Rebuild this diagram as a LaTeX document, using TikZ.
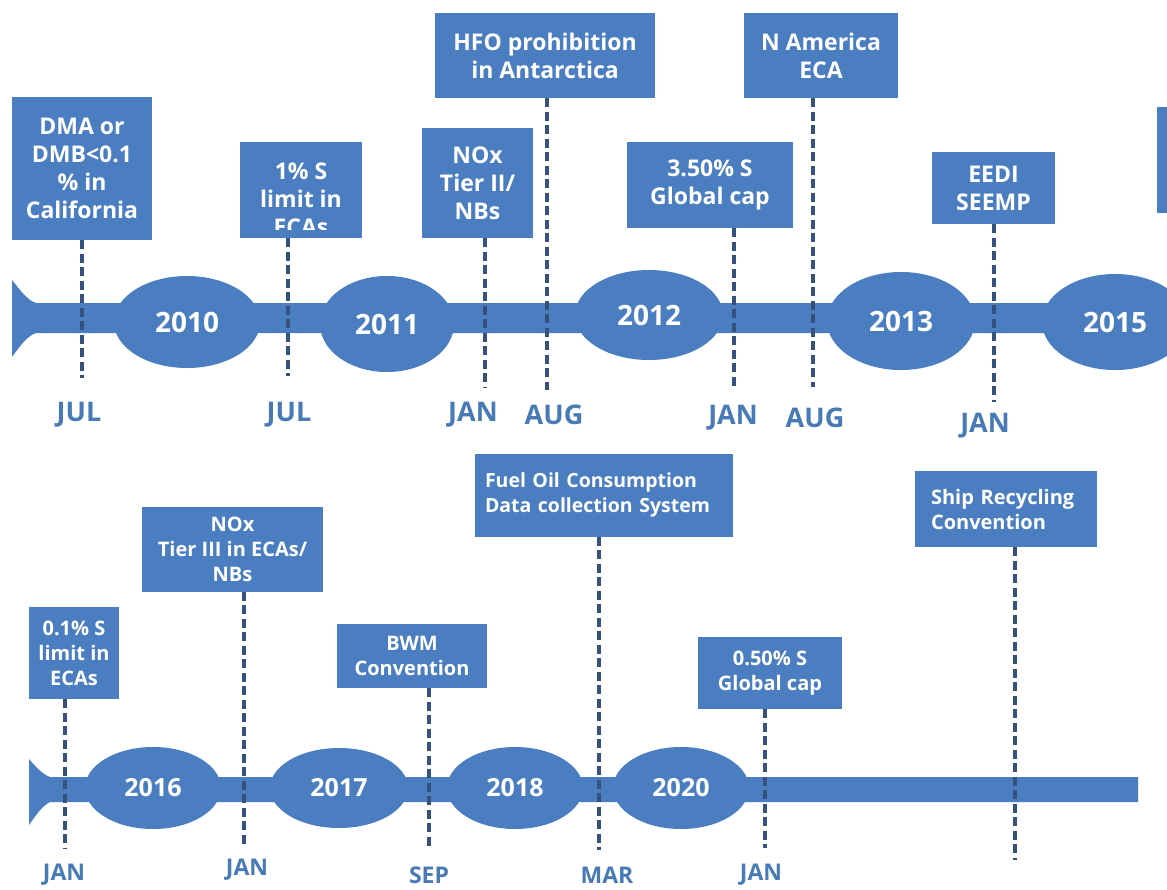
\documentclass[tikz,border=0pt]{standalone}
\usepackage{fontspec}
\setmainfont{Open Sans}
\usetikzlibrary{shapes.geometric}
\definecolor{tlblue}{RGB}{74,126,192}
\definecolor{tldash}{RGB}{52,82,124}
\definecolor{tlmonth}{RGB}{72,122,182}
\begin{document}
\begin{tikzpicture}[x=1pt,y=-1pt,
  evbox/.style={fill=tlblue, draw=none, text=white, inner sep=0pt, align=center,
    font=\bfseries\fontsize{23}{28}\selectfont},
  evboxs/.style={evbox, font=\bfseries\fontsize{20}{25}\selectfont},
  yearblob/.style={ellipse, fill=tlblue, draw=none, inner sep=0pt, text=white,
    font=\bfseries\fontsize{28}{34}\selectfont},
  yearblobs/.style={yearblob, font=\bfseries\fontsize{25}{30}\selectfont},
  monthlbl/.style={text=tlmonth, inner sep=0pt, font=\bfseries\fontsize{27}{32}\selectfont},
  monthlbls/.style={monthlbl, font=\bfseries\fontsize{23}{28}\selectfont},
  marker/.style={draw=tldash, line width=3.5pt, dash pattern=on 9pt off 4.5pt}
]
\clip (0,0) rectangle (1167,889);
\fill[white] (0,0) rectangle (1167,889);

% ---------- upper time line ----------
\fill[tlblue] (12,280) .. controls (20,290) and (27,300) .. (36,303) -- (1180,303)
  -- (1180,333) -- (36,333) .. controls (27,336) and (20,346) .. (12,357) -- cycle;
\node[yearblob, minimum width=146, minimum height=92] (y10) at (187,322) {2010};
\node[yearblob, minimum width=134, minimum height=96] (y11) at (387,324) {2011};
\node[yearblob, minimum width=148, minimum height=90] (y12) at (649,315) {2012};
\node[yearblob, minimum width=148, minimum height=98] (y13) at (901,321) {2013};
\node[yearblob, minimum width=146, minimum height=96] (y15) at (1115,322) {2015};

\node[evbox, minimum width=140, minimum height=143] (b1) at (82,168.5)
  {DMA or\\DMB<0.1\\\% in\\California};
\node[evbox, minimum width=122, minimum height=96] (b2) at (301,190) {};
\begin{scope}
  % the last line runs past the lower edge of its box
  \clip (240,142) rectangle (362,229);
  \node[evbox, fill=none] (t2) at (301,199) {1\% S\\limit in\\ECAs};
\end{scope}
\node[evbox, minimum width=111, minimum height=110] (b3) at (477.5,183) {NOx\\Tier II/\\NBs};
\node[evbox, minimum width=220, minimum height=85] (b4) at (545,55.5) {HFO prohibition\\in Antarctica};
\node[evbox, minimum width=166, minimum height=86] (b5) at (710,185) {3.50\% S\\Global cap};
\node[evbox, minimum width=154, minimum height=85] (b6) at (821,55.5) {N America\\ECA};
\node[evbox, minimum width=123, minimum height=72] (b7) at (993.5,188) {EEDI\\SEEMP};
\node[evbox, minimum width=24, minimum height=106] (b8) at (1169,160) {};

\coordinate (e1) at (82,378);
\coordinate (e2) at (288,376);
\coordinate (e3) at (485,388);
\coordinate (e4) at (547,390);
\coordinate (e5) at (734,387);
\coordinate (e6) at (813,387);
\coordinate (e7) at (994,402);
\draw[marker] (b1.south -| e1) -- (e1);
\draw[marker] (b2.south -| e2) -- (e2);
\draw[marker] (b3.south -| e3) -- (e3);
\draw[marker] (b4.south -| e4) -- (e4);
\draw[marker] (b5.south -| e5) -- (e5);
\draw[marker] (b6.south -| e6) -- (e6);
\draw[marker] (b7.south -| e7) -- (e7);

\node[monthlbl] (m1) at (79,415) {JUL};
\node[monthlbl] (m2) at (289,415) {JUL};
\node[monthlbl] (m3) at (473,415) {JAN};
\node[monthlbl] (m4) at (554,415) {AUG};
\node[monthlbl] (m5) at (733,418) {JAN};
\node[monthlbl] (m6) at (815,418) {AUG};
\node[monthlbl] (m7) at (985,426) {JAN};

% ---------- lower time line ----------
\fill[tlblue] (29,759) .. controls (36,767) and (42,774) .. (50,777) -- (1138,777)
  -- (1138,802) -- (50,802) .. controls (42,806) and (36,815) .. (29,825) -- cycle;
\node[yearblobs, minimum width=136, minimum height=82] (y16) at (153,788) {2016};
\node[yearblobs, minimum width=138, minimum height=80] (y17) at (339,788) {2017};
\node[yearblobs, minimum width=136, minimum height=82] (y18) at (515,788) {2018};
\node[yearblobs, minimum width=136, minimum height=82] (y20) at (681,788) {2020};

\node[evboxs, minimum width=90, minimum height=92] (c1) at (74,653) {0.1\% S\\limit in\\ECAs};
\node[evboxs, minimum width=181, minimum height=85] (c2) at (232.5,549) {NOx\\Tier III in ECAs/\\NBs};
\node[evboxs, minimum width=150, minimum height=64] (c3) at (412,656) {BWM\\Convention};
\node[evboxs, minimum width=258, minimum height=83, text width=238, align=left,
  font=\bfseries\fontsize{19.5}{25}\selectfont] (c4)
  at (604,495) {Fuel Oil Consumption\\Data collection System};
\node[evboxs, minimum width=182, minimum height=76, text width=150, align=left] (c6)
  at (1006,509) {Ship Recycling\\Convention};
\node[evboxs, minimum width=144, minimum height=72] (c5) at (770,673) {0.50\% S\\Global cap};

\coordinate (f1) at (65,848);
\coordinate (f2) at (244,848);
\coordinate (f3) at (429,848);
\coordinate (f4) at (599,850);
\coordinate (f5) at (765,848);
\coordinate (f6) at (1015,860);
\draw[marker] (c1.south -| f1) -- (f1);
\draw[marker] (c2.south -| f2) -- (f2);
\draw[marker] (c3.south -| f3) -- (f3);
\draw[marker] (c4.south -| f4) -- (f4);
\draw[marker] (c5.south -| f5) -- (f5);
\draw[marker] (c6.south -| f6) -- (f6);

\node[monthlbls] (n1) at (64,875) {JAN};
\node[monthlbls] (n2) at (247,870) {JAN};
\node[monthlbls] (n3) at (429,875) {SEP};
\node[monthlbls] (n4) at (607,875) {MAR};
\node[monthlbls] (n5) at (761,875) {JAN};
\end{tikzpicture}
\end{document}
